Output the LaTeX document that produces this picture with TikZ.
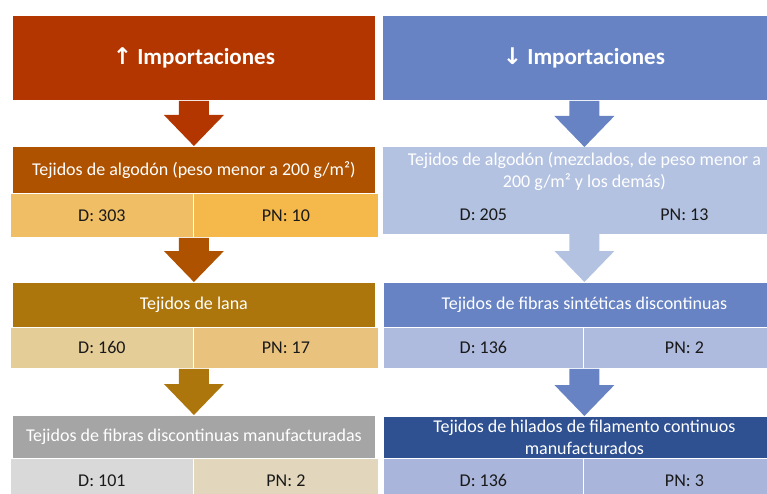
\documentclass[tikz,border=0pt]{standalone}
\usepackage{fontspec}
\setmainfont{Carlito}
\newfontfamily\flechas{DejaVu Sans}
\usetikzlibrary{calc}

\definecolor{rojoH}{RGB}{179,54,0}
\definecolor{cafeA}{RGB}{175,82,0}
\definecolor{oroA}{RGB}{173,118,12}
\definecolor{grisA}{RGB}{165,165,165}
\definecolor{datoA}{RGB}{240,190,100}
\definecolor{datoB}{RGB}{245,185,75}
\definecolor{datoC}{RGB}{229,205,152}
\definecolor{datoD}{RGB}{233,195,125}
\definecolor{datoE}{RGB}{217,217,217}
\definecolor{datoF}{RGB}{226,215,188}
\definecolor{azulH}{RGB}{103,131,196}
\definecolor{azulC}{RGB}{180,194,226}
\definecolor{azulD}{RGB}{174,186,222}
\definecolor{azulO}{RGB}{47,80,145}
\definecolor{azulE}{RGB}{169,181,218}

\begin{document}
\begin{tikzpicture}[x=1pt,y=-1pt,
  caja/.style={rectangle,inner sep=0pt,anchor=north west,draw=white,line width=0.8pt},
  cabeza/.style={caja,text=white,font=\fontsize{23}{27}\selectfont\bfseries},
  titulo/.style={caja,text=white,align=center,font=\fontsize{18}{22}\selectfont},
  dato/.style={caja,text=black!90,font=\fontsize{18}{22}\selectfont}]

\newcommand\flecha[3]{%
  \coordinate (fa) at (#1 -| #2);
  \fill[#3] ($(fa)+(-15,0)$) -- ($(#2)+(-15,-31)$) -- ($(#2)+(-30,-31)$) -- (#2)
    -- ($(#2)+(30,-31)$) -- ($(#2)+(15,-31)$) -- ($(fa)+(15,0)$) -- cycle;}

  \useasboundingbox (0,0) rectangle (767,494);
  \clip (0,0) rectangle (767,494);

  %% headers
  \node[cabeza,fill=rojoH,minimum width=363pt,minimum height=85pt] (hdrL) at (12,15)
    {{\flechas ↑} Importaciones};
  \node[cabeza,fill=azulH,minimum width=403pt,minimum height=85pt] (hdrR) at (382,15)
    {{\flechas ↓} Importaciones};

  %% left column
  \node[titulo,fill=cafeA,minimum width=363pt,minimum height=47pt] (t1L) at (12,146)
    {Tejidos de algodón (peso menor a 200 g/m²)};
  \node[dato,fill=datoA,minimum width=183pt,minimum height=44pt] (d1L) at (10,193) {D: 303};
  \node[dato,fill=datoB,minimum width=185pt,minimum height=44pt] (p1L) at (193,193) {PN: 10};

  \node[titulo,fill=oroA,minimum width=363pt,minimum height=45pt] (t2L) at (12,282)
    {Tejidos de lana};
  \node[dato,fill=datoC,minimum width=183pt,minimum height=41pt] (d2L) at (10,327) {D: 160};
  \node[dato,fill=datoD,minimum width=185pt,minimum height=41pt] (p2L) at (193,327) {PN: 17};

  \node[titulo,fill=grisA,minimum width=363pt,minimum height=43pt] (t3L) at (12,415)
    {Tejidos de fibras discontinuas manufacturadas};
  \node[dato,fill=datoE,minimum width=183pt,minimum height=44pt] (d3L) at (10,458) {D: 101};
  \node[dato,fill=datoF,minimum width=185pt,minimum height=44pt] (p3L) at (193,458) {PN: 2};

  %% right column
  \node[titulo,fill=azulC,draw=azulC,minimum width=402pt,minimum height=48pt] (t1R) at (383,147)
    {Tejidos de algodón (mezclados, de peso menor a\\200 g/m² y los demás)};
  \node[dato,fill=azulC,draw=azulC,minimum width=200pt,minimum height=38pt] (d1R) at (383,195) {D: 205};
  \node[dato,fill=azulC,draw=azulC,minimum width=202pt,minimum height=38pt] (p1R) at (583,195) {PN: 13};

  \node[titulo,fill=azulH,minimum width=402pt,minimum height=45pt] (t2R) at (383,282)
    {Tejidos de fibras sintéticas discontinuas};
  \node[dato,fill=azulD,minimum width=200pt,minimum height=41pt] (d2R) at (383,327) {D: 136};
  \node[dato,fill=azulD,minimum width=202pt,minimum height=41pt] (p2R) at (583,327) {PN: 2};

  \node[titulo,fill=azulO,minimum width=402pt,minimum height=42pt] (t3R) at (383,416)
    {Tejidos de hilados de filamento continuos\\manufacturados};
  \node[dato,fill=azulE,minimum width=200pt,minimum height=44pt] (d3R) at (383,458) {D: 136};
  \node[dato,fill=azulE,minimum width=202pt,minimum height=44pt] (p3R) at (583,458) {PN: 3};

  %% arrows
  \flecha{hdrL.south}{t1L.north}{rojoH}
  \flecha{d1L.south east}{t2L.north}{cafeA}
  \flecha{d2L.south east}{t3L.north}{oroA}
  \flecha{hdrR.south}{t1R.north}{azulH}
  \flecha{d1R.south east}{t2R.north}{azulC}
  \flecha{d2R.south east}{t3R.north}{azulH}

\end{tikzpicture}
\end{document}
